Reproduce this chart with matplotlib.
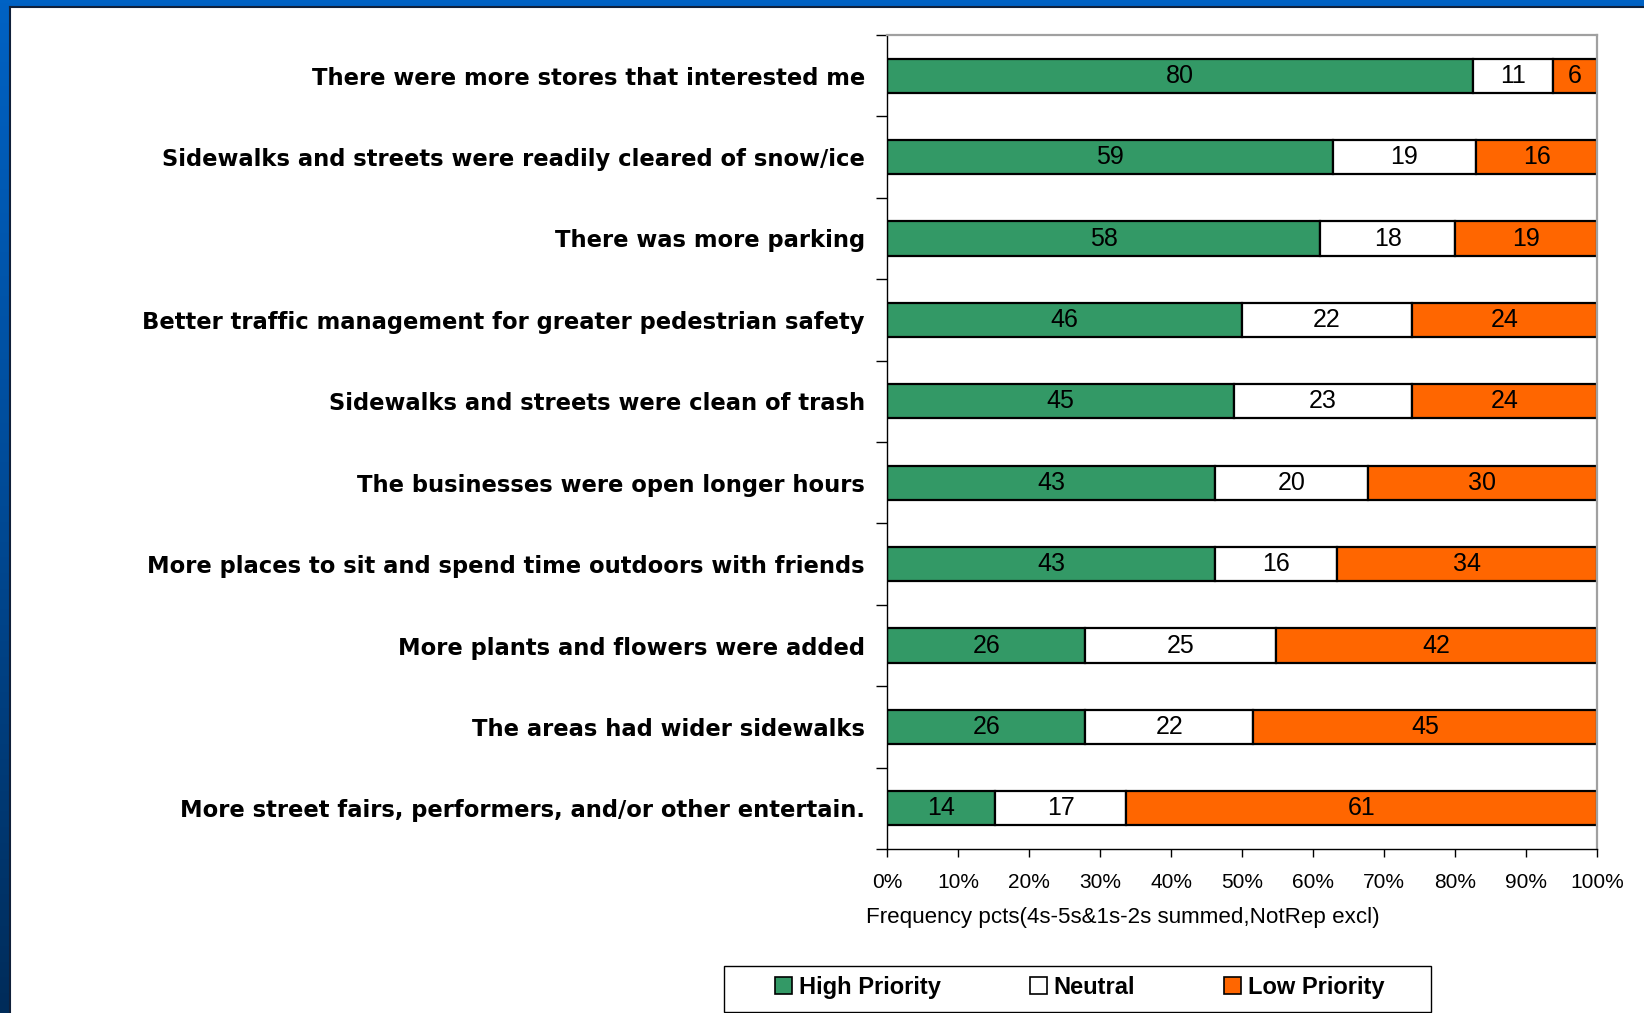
import numpy as np
import matplotlib
matplotlib.use("Agg")
import matplotlib.pyplot as plt
from matplotlib.patches import Rectangle, Patch
from matplotlib.colors import LinearSegmentedColormap

# Survey items, listed top to bottom
categories = [
    "There were more stores that interested me",
    "Sidewalks and streets were readily cleared of snow/ice",
    "There was more parking",
    "Better traffic management for greater pedestrian safety",
    "Sidewalks and streets were clean of trash",
    "The businesses were open longer hours",
    "More places to sit and spend time outdoors with friends",
    "More plants and flowers were added",
    "The areas had wider sidewalks",
    "More street fairs, performers, and/or other entertain.",
]
high = [80, 59, 58, 46, 45, 43, 43, 26, 26, 14]
neutral = [11, 19, 18, 22, 23, 20, 16, 25, 22, 17]
low = [6, 16, 19, 24, 24, 30, 34, 42, 45, 61]
series_names = ["High Priority", "Neutral", "Low Priority"]
x_ticks = [0, 10, 20, 30, 40, 50, 60, 70, 80, 90, 100]

colors = ["#339966", "#ffffff", "#ff6600"]
W, H = 1644, 1013

plt.rcParams["font.family"] = ["Liberation Sans", "DejaVu Sans"]
fig = plt.figure(figsize=(W / 100, H / 100), dpi=100)

# slide backdrop: blue frame with a white content panel
bg = fig.add_axes([0, 0, 1, 1], zorder=0)
grad = np.linspace(0, 1, 256).reshape(-1, 1)
cmap = LinearSegmentedColormap.from_list("slide", ["#0062c4", "#004a96", "#002c5a"])
bg.imshow(grad, aspect="auto", cmap=cmap, extent=[0, 1, 0, 1], origin="upper")
px, py = 10 / W, 7 / H
bg.add_patch(Rectangle((px, 0), 1 - px, 1 - py, facecolor="white", edgecolor="none",
                       transform=bg.transAxes))
bg.plot([px, px], [0, 1 - py], color="#10203a", lw=1.5, transform=bg.transAxes)
bg.plot([px, 1], [1 - py, 1 - py], color="#10203a", lw=1.5, transform=bg.transAxes)
# legend frame
bg.add_patch(Rectangle((724 / W, 1 / H), (1431 - 724) / W, (1012 - 966) / H,
                       facecolor="white", edgecolor="black", linewidth=1.0,
                       transform=bg.transAxes))
bg.set_xlim(0, 1)
bg.set_ylim(0, 1)
bg.axis("off")

# 100% stacked bar chart
ax = fig.add_axes([887 / W, 1 - 849 / H, 710 / W, 814 / H], zorder=1)
ax.patch.set_alpha(0)

data = np.array([high, neutral, low], dtype=float)
totals = data.sum(axis=0)
pct = data / totals * 100
y = np.arange(len(categories))
bar_h = 0.42

left = np.zeros(len(categories))
handles = []
for k in range(3):
    ax.barh(y, pct[k], left=left, height=bar_h, color=colors[k],
            edgecolor="black", linewidth=1.6, zorder=2)
    for i in range(len(categories)):
        ax.text(left[i] + pct[k][i] / 2, y[i], f"{int(data[k][i])}",
                ha="center", va="center", fontsize=18, color="black", zorder=3)
    left += pct[k]
    handles.append(Patch(facecolor=colors[k], edgecolor="black", linewidth=1.2,
                         label=series_names[k]))

ax.set_xlim(0, 100)
ax.set_ylim(len(categories) - 0.5, -0.5)

ax.set_yticks(y)
ax.set_yticklabels(categories, fontsize=16.3, fontweight="bold",
                   family=["DejaVu Sans"])
ax.tick_params(axis="y", which="major", length=0, pad=16)
ax.set_yticks(np.arange(-0.5, len(categories), 1.0), minor=True)
ax.tick_params(axis="y", which="minor", length=8, width=1, direction="out")

ax.set_xticks(x_ticks)
ax.set_xticklabels([f"{t}%" for t in x_ticks], fontsize=15)
ax.tick_params(axis="x", length=6, width=1, direction="out", pad=11)

for side in ("top", "right"):
    ax.spines[side].set_color("#a0a0a0")
    ax.spines[side].set_linewidth(1.6)
for side in ("left", "bottom"):
    ax.spines[side].set_color("black")
    ax.spines[side].set_linewidth(1.0)

fig.text(866 / W, 1 - 917 / H, "Frequency pcts(4s-5s&1s-2s summed,NotRep excl)",
         ha="left", va="center", fontsize=16.1)

leg = fig.legend(handles=handles, loc="center left", ncol=3,
                 bbox_to_anchor=(775 / W, 1 - 987 / H),
                 frameon=False, prop={"weight": "bold", "size": 17.0},
                 handlelength=0.72, handleheight=0.72, handletextpad=0.3,
                 columnspacing=3.75, borderaxespad=0.0, borderpad=0.0)
leg.set_zorder(5)

fig.savefig("out.png", dpi=100)
